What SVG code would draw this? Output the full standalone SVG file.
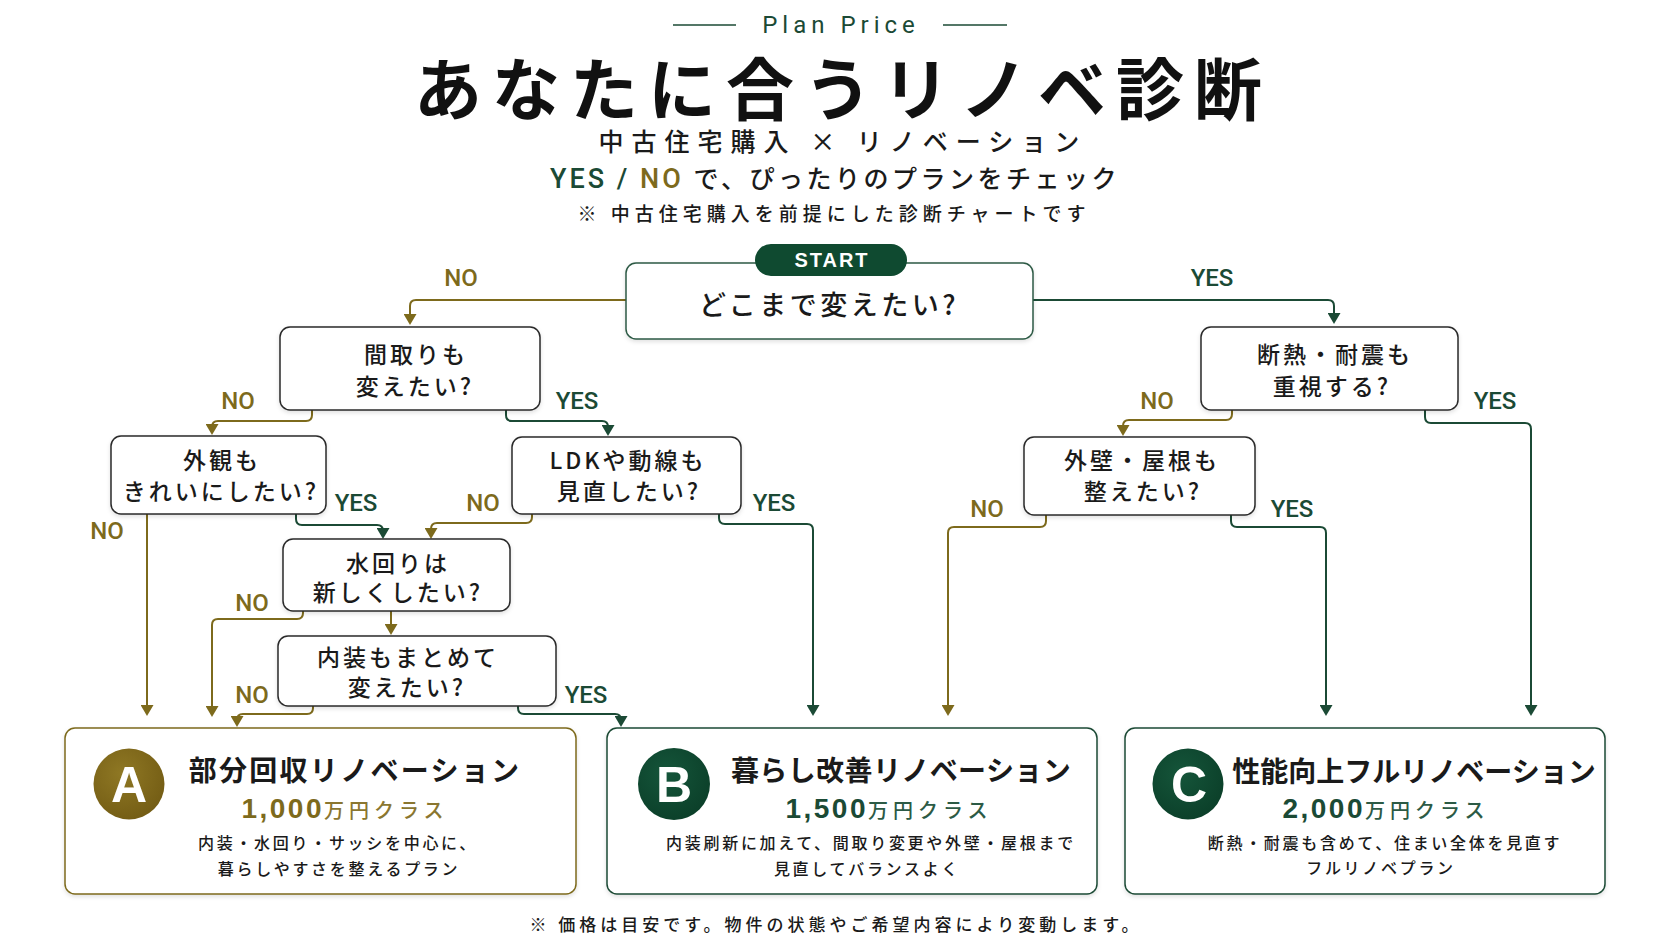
<svg xmlns="http://www.w3.org/2000/svg" width="1672" height="941" viewBox="0 0 1672 941">
<defs>
<style>
.jp{font-family:"Noto Sans CJK JP","Noto Sans",sans-serif;}
.lat{font-family:Roboto,"Liberation Sans",sans-serif;}
.q{font-family:"Noto Sans CJK JP",sans-serif;font-size:23px;font-weight:500;letter-spacing:3px;fill:#1a1a1a;text-anchor:middle;}
.qbox{fill:#fff;stroke:#2a2a2a;stroke-width:1.5;filter:url(#sh);}
.lbl{font-family:Roboto,"Liberation Sans",sans-serif;font-size:24px;font-weight:500;text-anchor:middle;}
.no{fill:#7d6a1c;}
.yes{fill:#1b4a35;}
.cno{fill:none;stroke:#7d6a1c;stroke-width:2;marker-end:url(#an);}
.cyes{fill:none;stroke:#1b4a35;stroke-width:2;marker-end:url(#ay);}
.rtitle{font-family:"Noto Sans CJK JP",sans-serif;font-size:28px;font-weight:700;fill:#1a1a1a;text-anchor:middle;}
.desc{font-family:"Noto Sans CJK JP",sans-serif;font-size:16px;font-weight:500;letter-spacing:2.7px;fill:#1a1a1a;text-anchor:middle;}
.num{font-family:"Liberation Sans",Arial,sans-serif;font-size:28px;font-weight:700;letter-spacing:2.5px;}
.unit{font-family:"Noto Sans CJK JP",sans-serif;font-size:20px;font-weight:500;letter-spacing:5px;}
.circ{font-family:"Liberation Sans",Arial,sans-serif;font-size:50px;font-weight:700;fill:#fff;text-anchor:middle;}
</style>
<filter id="sh" x="-5%" y="-10%" width="110%" height="130%">
<feDropShadow dx="0" dy="2" stdDeviation="2" flood-color="#000" flood-opacity="0.12"/>
</filter>
<marker id="an" markerUnits="userSpaceOnUse" markerWidth="13" markerHeight="13" refX="7" refY="6.5" orient="auto">
<path d="M0,0 L11,6.5 L0,13 Z" fill="#7d6a1c"/>
</marker>
<marker id="ay" markerUnits="userSpaceOnUse" markerWidth="13" markerHeight="13" refX="7" refY="6.5" orient="auto">
<path d="M0,0 L11,6.5 L0,13 Z" fill="#1b4a35"/>
</marker>
<radialGradient id="ga" cx="40%" cy="35%" r="70%">
<stop offset="0" stop-color="#8f7824"/>
<stop offset="1" stop-color="#735c14"/>
</radialGradient>
<radialGradient id="gg" cx="40%" cy="35%" r="70%">
<stop offset="0" stop-color="#15553a"/>
<stop offset="1" stop-color="#0b3f29"/>
</radialGradient>
</defs>
<rect width="1672" height="941" fill="#ffffff"/>

<g id="header">
<line x1="673" y1="25" x2="736" y2="25" stroke="#1b4a35" stroke-width="1.5"/>
<line x1="943" y1="25" x2="1007" y2="25" stroke="#1b4a35" stroke-width="1.5"/>
<text x="841" y="33" class="lat" font-size="24" font-weight="400" letter-spacing="5" fill="#1b4a35" text-anchor="middle">Plan Price</text>
<text x="843" y="115" class="jp" font-size="68" font-weight="700" letter-spacing="10" fill="#111" text-anchor="middle">あなたに合うリノベ診断</text>
<text x="843" y="151" class="jp" font-size="25" font-weight="500" letter-spacing="8" fill="#1a1a1a" text-anchor="middle">中古住宅購入 × リノベーション</text>
<text x="550" y="188" class="jp" font-size="25" font-weight="500" letter-spacing="3.5" fill="#1a1a1a"><tspan class="lat" font-size="27" font-weight="500" letter-spacing="3" fill="#1b4a35">YES / </tspan><tspan class="lat" font-size="27" font-weight="500" letter-spacing="3" fill="#7d6a1c">NO </tspan>で、ぴったりのプランをチェック</text>
<text x="834" y="221" class="jp" font-size="19" font-weight="500" letter-spacing="5" fill="#1a1a1a" text-anchor="middle">※ 中古住宅購入を前提にした診断チャートです</text>
</g>

<g id="connectors">
<path class="cno" d="M626 300 H416 Q410 300 410 306 V321"/>
<path class="cyes" d="M1033 300 H1328 Q1334 300 1334 306 V320"/>
<path class="cno" d="M312 410 V415 Q312 421 306 421 H218 Q212 421 212 427 V431"/>
<path class="cyes" d="M506 410 V415 Q506 421 512 421 H602 Q608 421 608 427 V432"/>
<path class="cno" d="M147 514 V712"/>
<path class="cyes" d="M296 514 V519 Q296 525 302 525 H377 Q383 525 383 531 V535"/>
<path class="cno" d="M532 514 V517 Q532 523 526 523 H437 Q431 523 431 529 V535"/>
<path class="cyes" d="M719 514 V518 Q719 524 725 524 H807 Q813 524 813 530 V712"/>
<path class="cno" d="M303 611 V613 Q303 619 297 619 H218 Q212 619 212 625 V713"/>
<path class="cno" d="M391 611 V631"/>
<path class="cno" d="M313 706 V708 Q313 714 307 714 H243 Q237 714 237 720 V723"/>
<path class="cyes" d="M518 706 V708 Q518 714 524 714 H615 Q621 714 621 720 V723"/>
<path class="cno" d="M1232 410 V414 Q1232 420 1226 420 H1129 Q1123 420 1123 426 V432"/>
<path class="cyes" d="M1425 410 V417 Q1425 423 1431 423 H1525 Q1531 423 1531 429 V712"/>
<path class="cno" d="M1046 515 V521 Q1046 527 1040 527 H954 Q948 527 948 533 V712"/>
<path class="cyes" d="M1231 515 V521 Q1231 527 1237 527 H1320 Q1326 527 1326 533 V712"/>
<text class="lbl no" x="461" y="286">NO</text>
<text class="lbl yes" x="1212" y="286">YES</text>
<text class="lbl no" x="238" y="409">NO</text>
<text class="lbl yes" x="577" y="409">YES</text>
<text class="lbl no" x="107" y="539">NO</text>
<text class="lbl yes" x="356" y="511">YES</text>
<text class="lbl no" x="483" y="511">NO</text>
<text class="lbl yes" x="774" y="511">YES</text>
<text class="lbl no" x="252" y="611">NO</text>
<text class="lbl no" x="252" y="703">NO</text>
<text class="lbl yes" x="586" y="703">YES</text>
<text class="lbl no" x="1157" y="409">NO</text>
<text class="lbl yes" x="1495" y="409">YES</text>
<text class="lbl no" x="987" y="517">NO</text>
<text class="lbl yes" x="1292" y="517">YES</text>
</g>

<g id="start">
<rect x="626" y="263" width="407" height="76" rx="10" fill="#fff" stroke="#2d5a45" stroke-width="1.5" filter="url(#sh)"/>
<rect x="755" y="244" width="152" height="32" rx="16" fill="#0f4a30"/>
<text x="832" y="267" font-family="'Liberation Sans',Arial,sans-serif" font-size="20" font-weight="700" letter-spacing="2" fill="#fff" text-anchor="middle">START</text>
<text x="829" y="315" class="jp" font-size="27" font-weight="500" letter-spacing="3.5" fill="#1a1a1a" text-anchor="middle">どこまで変えたい?</text>
</g>

<g id="q1">
<rect class="qbox" x="280" y="327" width="260" height="83" rx="10"/>
<text class="q" x="416" y="363">間取りも</text>
<text class="q" x="415" y="395">変えたい?</text>
</g>
<g id="q2">
<rect class="qbox" x="111" y="436" width="215" height="78" rx="10"/>
<text class="q" x="222" y="469">外観も</text>
<text class="q" x="221" y="500" letter-spacing="2">きれいにしたい?</text>
</g>
<g id="q3">
<rect class="qbox" x="512" y="437" width="229" height="77" rx="10"/>
<text class="q" x="628" y="469">LDKや動線も</text>
<text class="q" x="629" y="500">見直したい?</text>
</g>
<g id="q4">
<rect class="qbox" x="283" y="539" width="227" height="72" rx="10"/>
<text class="q" x="398" y="572">水回りは</text>
<text class="q" x="398" y="601" letter-spacing="2.5">新しくしたい?</text>
</g>
<g id="q5">
<rect class="qbox" x="278" y="636" width="278" height="70" rx="10"/>
<text class="q" x="408" y="666" letter-spacing="2.5">内装もまとめて</text>
<text class="q" x="407" y="696">変えたい?</text>
</g>
<g id="q6">
<rect class="qbox" x="1201" y="327" width="257" height="83" rx="10"/>
<text class="q" x="1335" y="363">断熱・耐震も</text>
<text class="q" x="1332" y="395">重視する?</text>
</g>
<g id="q7">
<rect class="qbox" x="1024" y="437" width="231" height="78" rx="10"/>
<text class="q" x="1142" y="469">外壁・屋根も</text>
<text class="q" x="1143" y="500">整えたい?</text>
</g>

<g id="planA">
<rect x="65" y="728" width="511" height="166" rx="10" fill="#fff" stroke="#7d6a1c" stroke-width="1.5" filter="url(#sh)"/>
<circle cx="129" cy="784" r="35.5" fill="url(#ga)"/>
<text class="circ" x="129" y="802">A</text>
<text class="rtitle" x="355" y="781" letter-spacing="2.3">部分回収リノベーション</text>
<text x="345" y="818" text-anchor="middle"><tspan class="num" fill="#7d6a1c">1,000</tspan><tspan class="unit" fill="#8a7630">万円クラス</tspan></text>
<text class="desc" x="338" y="849">内装・水回り・サッシを中心に、</text>
<text class="desc" x="339" y="875">暮らしやすさを整えるプラン</text>
</g>
<g id="planB">
<rect x="607" y="728" width="490" height="166" rx="10" fill="#fff" stroke="#1b4a35" stroke-width="1.5" filter="url(#sh)"/>
<circle cx="674" cy="784" r="36" fill="url(#gg)"/>
<text class="circ" x="674" y="802">B</text>
<text class="rtitle" x="901" y="781" letter-spacing="0.4">暮らし改善リノベーション</text>
<text x="889" y="818" text-anchor="middle"><tspan class="num" fill="#1b4a35">1,500</tspan><tspan class="unit" fill="#2c5a45">万円クラス</tspan></text>
<text class="desc" x="871" y="849">内装刷新に加えて、間取り変更や外壁・屋根まで</text>
<text class="desc" x="867" y="875">見直してバランスよく</text>
</g>
<g id="planC">
<rect x="1125" y="728" width="480" height="166" rx="10" fill="#fff" stroke="#1b4a35" stroke-width="1.5" filter="url(#sh)"/>
<circle cx="1188" cy="784" r="35.5" fill="url(#gg)"/>
<text class="circ" x="1189" y="802">C</text>
<text class="rtitle" x="1414" y="782" font-size="25.5" letter-spacing="0">性能向上フルリノベーション</text>
<text x="1386" y="818" text-anchor="middle"><tspan class="num" fill="#1b4a35">2,000</tspan><tspan class="unit" fill="#2c5a45">万円クラス</tspan></text>
<text class="desc" x="1385" y="849">断熱・耐震も含めて、住まい全体を見直す</text>
<text class="desc" x="1381" y="874">フルリノベプラン</text>
</g>

<g id="footer">
<text x="836" y="931" class="jp" font-size="17" font-weight="500" letter-spacing="4" fill="#1a1a1a" text-anchor="middle">※ 価格は目安です。物件の状態やご希望内容により変動します。</text>
</g>
</svg>
